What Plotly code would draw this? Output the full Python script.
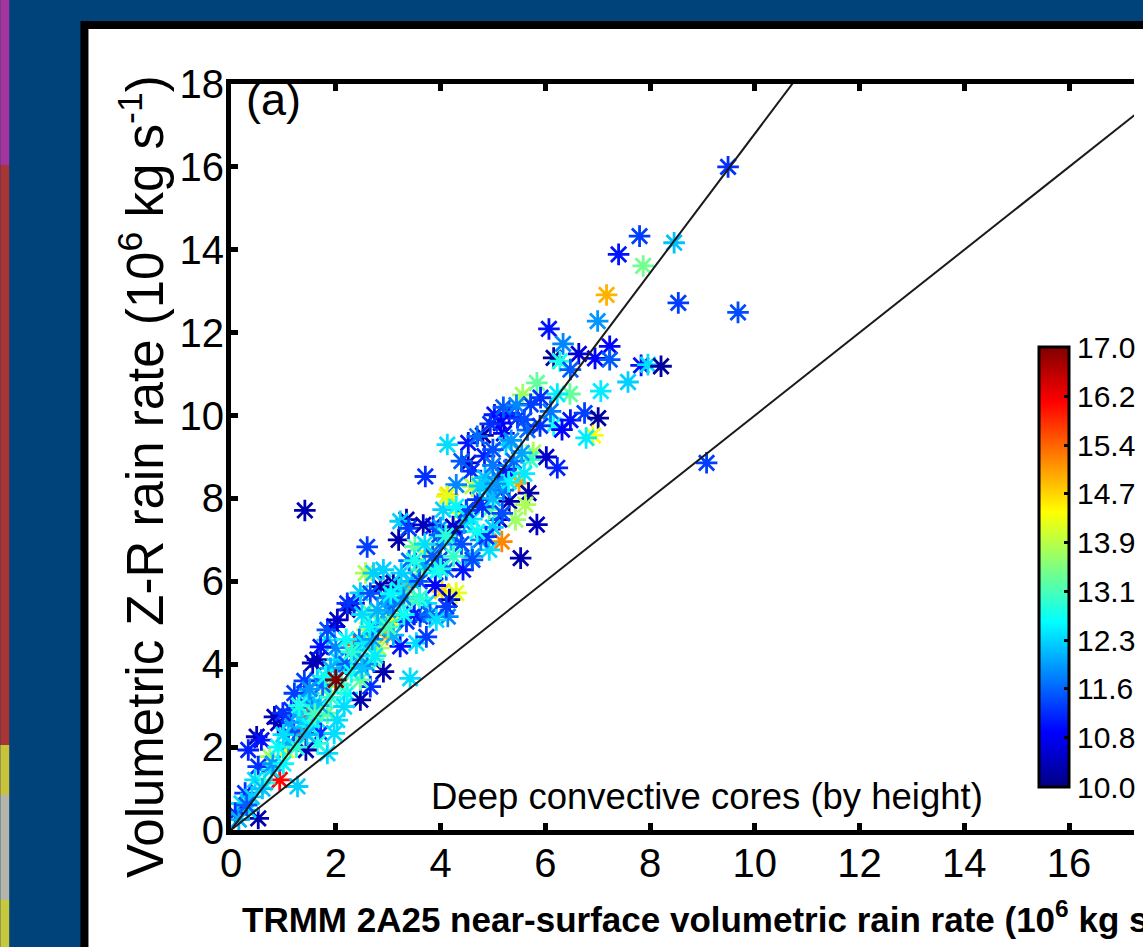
import plotly.graph_objects as go

# ---------------- data ----------------
trmm_rate = [
    9.49, 7.80, 8.46, 7.40, 7.87, 7.17, 8.54, 9.68, 7.00, 6.07, 6.34, 7.23, 6.16, 6.28, 6.64, 6.95, 7.23, 6.48,
    7.83, 7.96, 8.21, 7.58, 7.06, 5.84, 5.57, 6.47, 6.23, 5.91, 5.72, 5.03, 5.31, 5.47, 5.15, 4.81, 4.53, 4.13,
    5.21, 5.66, 6.16, 6.48, 6.75, 7.01, 6.91, 6.78, 6.32, 5.25, 5.77, 5.71, 6.02, 6.23, 9.08, 3.71, 4.53, 4.84,
    5.00, 5.34, 4.59,
    1.41, 5.50, 5.68, 5.31, 5.62, 5.84, 5.53, 5.17, 5.43, 4.93, 4.77, 5.12, 4.93, 4.71, 4.61, 4.14, 4.36, 4.30,
    4.05, 3.86, 3.35, 3.23, 3.20, 3.51, 3.78, 2.60, 2.57, 2.91, 3.10, 3.35, 3.61, 3.98, 4.11, 4.43, 4.03, 4.30,
    4.17, 4.14, 3.73, 3.48, 3.23, 3.04, 2.98, 3.35, 3.61, 3.54, 3.23, 2.91, 2.72, 2.82, 3.42, 2.35, 2.60, 2.66,
    2.35, 2.22, 2.47, 2.85, 2.72, 1.97, 1.84, 1.65, 2.03, 1.84, 2.22, 2.47, 2.66, 2.47, 1.46, 1.31, 1.65, 1.84,
    2.03, 1.71, 1.84, 1.65, 1.43, 1.05, 0.74, 0.49, 0.90, 1.15, 1.53, 1.65, 1.40, 1.27, 0.93, 1.27, 0.52, 0.46,
    0.27, 0.20, 0.52, 0.08, 0.64, 0.77, 0.33, 4.12,
    0.60, 0.80, 1.00, 1.10, 1.20, 1.35, 1.50, 1.55, 1.70, 1.90, 1.75, 2.10, 2.20, 2.30, 2.40, 2.45, 2.55, 2.70,
    2.80, 2.90, 3.00, 3.10, 3.20, 3.30, 3.45, 3.60, 3.70, 3.85, 3.90, 4.00, 4.20, 4.30, 4.45, 4.50, 4.60, 4.80,
    4.90, 5.00, 5.10, 5.25, 5.40, 3.50, 3.90, 2.00, 1.40, 1.10, 0.40, 0.15, 0.30, 2.60, 3.10, 3.80, 4.60, 4.40,
    5.00, 5.20, 4.00, 3.40, 2.95, 2.50, 2.20, 1.90,
    0.33, 0.58, 0.83, 0.99, 1.21, 1.56, 1.71, 1.84, 2.03, 2.22, 2.66, 3.39, 3.67, 3.98, 4.24, 4.49,
    3.73, 3.92, 4.11, 4.61, 4.87, 5.18, 2.16, 1.97,
    0.90, 1.25, 1.45, 1.60, 1.00, 1.30, 1.50, 1.80, 2.10, 2.30, 2.50, 2.65, 2.80, 3.05, 3.25, 3.50, 3.70, 4.10,
    4.30, 3.60, 3.30, 3.00, 2.75, 4.00, 4.25, 4.70, 4.85, 5.30, 5.55, 5.00,
    4.70, 4.95, 5.20, 5.45, 5.60, 5.90, 6.10, 5.35, 4.40, 4.75, 5.05, 5.60,
    2.00,
]
zr_rate = [
    16.00, 14.33, 14.17, 13.89, 13.61, 12.91, 12.72, 12.49, 12.28, 12.09, 11.73, 11.67, 11.39, 11.31, 11.49, 11.38, 11.35, 11.11,
    11.21, 11.23, 11.19, 10.81, 10.59, 10.79, 10.50, 10.52, 10.52, 10.43, 10.27, 10.02, 10.06, 9.94, 9.82, 9.52, 9.34, 9.30,
    9.57, 9.65, 9.77, 9.89, 10.06, 9.94, 9.52, 9.46, 9.66, 9.30, 9.11, 8.94, 9.00, 8.74, 8.86, 8.53, 8.86, 9.02,
    9.18, 8.62, 8.66,
    7.71, 8.37, 8.13, 7.93, 7.85, 7.37, 6.56, 6.96, 7.49, 6.76, 7.00, 7.49, 7.73, 7.97, 8.29, 8.09, 7.65, 8.33,
    7.73, 7.33, 7.49, 7.45, 7.00, 6.84, 6.72, 6.83, 6.20, 6.28, 5.96, 5.87, 6.28, 6.52, 6.28, 6.28, 5.76, 5.72,
    5.56, 5.15, 5.47, 5.56, 5.15, 5.11, 4.71, 5.03, 5.15, 4.51, 4.43, 3.82, 4.11, 4.39, 3.66, 4.47, 4.83, 5.23,
    5.47, 5.31, 5.72, 5.87, 6.20, 4.91, 4.58, 4.11, 4.11, 3.46, 3.30, 3.14, 3.46, 3.62, 2.73, 2.33, 2.65, 2.82,
    2.65, 2.33, 1.85, 2.09, 1.93, 1.93, 1.77, 2.25, 2.58, 2.90, 3.14, 3.62, 3.30, 2.82, 1.21, 1.05, 1.53, 1.21,
    0.89, 0.64, 0.28, 0.40, 1.13, 1.45, 0.48, 8.05,
    1.00, 1.60, 1.60, 2.10, 2.40, 2.60, 2.50, 2.95, 3.00, 3.20, 3.50, 3.90, 4.00, 3.80, 4.20, 4.60, 4.50, 4.60,
    4.85, 5.00, 5.30, 5.45, 5.80, 5.60, 6.00, 6.00, 6.40, 6.60, 6.20, 6.90, 7.00, 7.20, 7.40, 7.70, 7.50, 7.80,
    8.20, 8.00, 8.50, 8.70, 8.90, 5.20, 5.90, 4.40, 3.60, 2.60, 0.80, 0.25, 0.60, 4.00, 4.70, 5.20, 6.60, 6.90,
    7.30, 8.20, 7.30, 6.50, 5.60, 5.20, 4.60, 3.90,
    1.93, 2.17, 2.73, 2.82, 3.30, 4.03, 4.42, 4.83, 5.07, 5.47, 5.71, 7.28, 7.36, 7.12, 7.32, 7.72,
    4.66, 5.07, 5.39, 6.52, 7.08, 7.64, 2.98, 2.33,
    2.00, 2.00, 2.30, 2.80, 2.30, 3.00, 3.40, 3.70, 3.50, 4.30, 3.90, 4.90, 5.30, 5.70, 6.20, 6.50, 6.90, 7.10,
    7.80, 5.60, 5.20, 4.90, 4.20, 6.30, 6.60, 7.20, 8.50, 8.40, 9.10, 8.80,
    9.50, 9.80, 10.20, 10.25, 9.90, 9.75, 10.10, 9.40, 8.90, 8.30, 8.35, 8.60,
    3.62,
]
core_height = [
    11.2, 11.3, 12.2, 11.0, 13.4, 14.9, 11.3, 11.4, 11.9, 11.0, 11.8, 10.9, 10.2, 12.8, 10.6, 10.9, 11.5, 11.5,
    11.0, 12.4, 10.2, 12.3, 12.5, 13.3, 13.7, 13.3, 12.5, 11.2, 11.3, 11.0, 11.0, 11.2, 10.9, 10.2, 11.0, 12.4,
    10.8, 11.6, 12.7, 11.0, 11.3, 10.2, 14.3, 12.5, 10.9, 12.3, 13.8, 13.0, 10.5, 11.1, 11.3, 11.2, 10.4, 11.1,
    11.4, 12.6, 11.2,
    10.3, 15.0, 10.3, 10.3, 13.8, 10.4, 10.3, 15.2, 13.7, 12.4, 11.8, 10.6, 13.2, 11.2, 13.9, 14.6, 14.2, 11.8,
    12.3, 11.2, 10.3, 12.3, 10.3, 13.3, 14.2, 11.3, 13.8, 12.3, 10.3, 15.0, 13.4, 11.3, 11.5, 11.0, 14.6, 14.2,
    10.3, 11.8, 12.4, 13.2, 12.4, 14.4, 15.0, 11.2, 11.4, 12.4, 11.0, 10.3, 13.2, 13.8, 12.4, 15.6, 13.8, 13.2,
    11.0, 10.3, 12.3, 10.3, 12.3, 11.0, 12.4, 10.3, 12.4, 14.2, 12.6, 10.3, 11.2, 13.3, 15.5, 15.8, 12.4, 13.3,
    12.4, 11.2, 12.4, 12.8, 10.3, 14.3, 13.7, 10.3, 10.4, 11.2, 12.4, 12.3, 12.4, 12.4, 16.1, 12.3, 11.2, 12.4,
    11.2, 12.4, 10.3, 11.2, 12.9, 12.4, 12.4, 14.2,
    12.2, 11.9, 12.6, 12.0, 11.4, 12.3, 12.6, 11.8, 12.2, 12.9, 11.6, 12.3, 11.5, 12.7, 12.1, 11.7, 12.5, 12.0,
    11.5, 12.4, 12.0, 11.6, 12.5, 11.8, 12.2, 11.4, 12.0, 11.5, 12.6, 11.7, 12.2, 11.3, 12.0, 11.6, 12.5, 11.2,
    11.8, 12.2, 11.4, 11.0, 11.6, 11.1, 10.9, 11.8, 11.3, 12.0, 12.3, 12.1, 11.5, 11.8, 12.1, 11.6, 12.0, 11.4,
    12.3, 11.7, 12.0, 11.6, 11.9, 12.4, 12.6, 12.1,
    11.1, 11.0, 10.4, 11.2, 11.3, 10.4, 11.0, 11.4, 10.5, 11.2, 11.4, 11.3, 10.4, 11.4, 10.5, 11.3,
    11.3, 12.4, 11.3, 11.4, 11.2, 11.4, 12.4, 12.4,
    12.6, 12.9, 12.2, 13.1, 12.4, 12.8, 11.9, 12.7, 13.0, 12.9, 12.2, 12.6, 12.1, 12.6, 12.3, 12.8, 12.4, 12.9,
    12.6, 12.9, 12.7, 13.1, 12.5, 12.8, 13.0, 12.7, 12.2, 12.6, 12.0, 11.7,
    11.6, 11.2, 11.5, 11.8, 11.4, 11.2, 11.7, 11.9, 11.5, 12.3, 11.9, 12.5,
    17.0,
]

fit_slope = 1.68        # Z-R fit line
one_to_one_slope = 1.0  # 1:1 line
line_x_extent = [0, 20]

x_ticks = [0, 2, 4, 6, 8, 10, 12, 14, 16]
y_ticks = [0, 2, 4, 6, 8, 10, 12, 14, 16, 18]
cbar_tickvals = [10.0, 10.78, 11.56, 12.33, 13.11, 13.89, 14.67, 15.44, 16.22, 17.0]
cbar_ticktext = ["10.0", "10.8", "11.6", "12.3", "13.1", "13.9", "14.7", "15.4", "16.2", "17.0"]
height_min, height_max = 10.0, 17.0

# ---------------- layout geometry ----------------
W, H = 1143, 947
L, R, T, B = 231, 0, 84, 117
PW = W - L - R
PH = H - T - B
X_MAX = PW / 52.9


def px(xp):
    return (xp - L) / PW


def py(yp):
    return (H - B - yp) / PH


FONT = "Liberation Sans, Arial, Helvetica, sans-serif"
jet = [
    [0.0, "rgb(0,0,131)"],
    [0.125, "rgb(0,0,255)"],
    [0.375, "rgb(0,255,255)"],
    [0.625, "rgb(255,255,0)"],
    [0.875, "rgb(255,0,0)"],
    [1.0, "rgb(128,0,0)"],
]

fig = go.Figure()

fig.add_trace(go.Scatter(
    x=trmm_rate, y=zr_rate, mode="markers",
    marker=dict(
        symbol="asterisk", size=18,
        color=core_height, colorscale=jet, cmin=height_min, cmax=height_max,
        showscale=True,
        line=dict(color=core_height, colorscale=jet, cmin=height_min, cmax=height_max, width=2.8),
        colorbar=dict(
            x=px(1047), xanchor="left", xpad=0,
            y=py(567), yanchor="middle", ypad=0,
            len=440, lenmode="pixels", thickness=30, thicknessmode="pixels",
            outlinewidth=3, outlinecolor="black",
            tickvals=cbar_tickvals, ticktext=cbar_ticktext,
            ticks="inside", ticklen=6, tickwidth=3, tickcolor="black",
            tickfont=dict(size=30, family=FONT, color="black"),
        ),
    ),
    showlegend=False, hoverinfo="skip",
))

for slope in (fit_slope, one_to_one_slope):
    fig.add_trace(go.Scatter(
        x=line_x_extent, y=[slope * v for v in line_x_extent], mode="lines",
        line=dict(color="#1a1a1a", width=2), showlegend=False, hoverinfo="skip",
    ))

shapes = [
    # slide background pieces at the far left
    dict(type="rect", xref="paper", yref="paper", x0=px(-2), x1=px(7), y0=py(-2), y1=py(165),
         fillcolor="#a5359c", line=dict(width=0), layer="below"),
    dict(type="rect", xref="paper", yref="paper", x0=px(-2), x1=px(7), y0=py(165), y1=py(745),
         fillcolor="#a83434", line=dict(width=0), layer="below"),
    dict(type="rect", xref="paper", yref="paper", x0=px(-2), x1=px(7), y0=py(745), y1=py(795),
         fillcolor="#c9c23a", line=dict(width=0), layer="below"),
    dict(type="rect", xref="paper", yref="paper", x0=px(-2), x1=px(7), y0=py(795), y1=py(900),
         fillcolor="#b4b4a8", line=dict(width=0), layer="below"),
    dict(type="rect", xref="paper", yref="paper", x0=px(-2), x1=px(7), y0=py(900), y1=py(960),
         fillcolor="#c8c83c", line=dict(width=0), layer="below"),
    # white figure panel with black frame
    dict(type="rect", xref="paper", yref="paper", x0=px(83), x1=px(W + 60), y0=py(25), y1=py(H + 60),
         fillcolor="white", line=dict(color="black", width=8), layer="below"),
]

annotations = [
    dict(text="(a)", x=px(244), y=py(99), xref="paper", yref="paper", xanchor="left", yanchor="middle",
         showarrow=False, font=dict(size=45, family=FONT, color="black")),
    dict(text="Deep convective cores (by height)", x=px(431), y=py(796), xref="paper", yref="paper",
         xanchor="left", yanchor="middle", showarrow=False,
         font=dict(size=36.5, family=FONT, color="black")),
    dict(text="Volumetric Z-R rain rate (10<sup>6</sup> kg s<sup>-1</sup>)", textangle=-90,
         x=px(141), y=py(476), xref="paper", yref="paper", xanchor="center", yanchor="middle",
         showarrow=False, font=dict(size=51, family=FONT, color="black")),
    dict(text="<b>TRMM 2A25 near-surface volumetric rain rate (10<sup>6</sup> kg s<sup>-1</sup>)</b>",
         x=px(240), y=py(917), xref="paper", yref="paper", xanchor="left", yanchor="middle",
         showarrow=False, font=dict(size=35, family=FONT, color="black")),
]

fig.update_layout(
    width=W, height=H,
    margin=dict(l=L, r=R, t=T, b=B, pad=0),
    paper_bgcolor="#00427a",
    plot_bgcolor="white",
    shapes=shapes,
    annotations=annotations,
    font=dict(family=FONT, color="black"),
)
fig.update_xaxes(
    range=[0, X_MAX], tickvals=x_ticks, ticktext=[str(v) for v in x_ticks],
    showgrid=False, zeroline=False,
    showline=True, linecolor="black", linewidth=5, mirror="allticks",
    ticks="inside", ticklen=7, tickwidth=5, tickcolor="black",
    ticklabelstandoff=-6,
    tickfont=dict(size=40, family=FONT, color="black"),
)
fig.update_yaxes(
    range=[0, 18], tickvals=y_ticks, ticktext=[str(v) for v in y_ticks],
    showgrid=False, zeroline=False,
    showline=True, linecolor="black", linewidth=5, mirror=False,
    ticks="inside", ticklen=7, tickwidth=5, tickcolor="black",
    ticklabelstandoff=-6,
    tickfont=dict(size=40, family=FONT, color="black"),
)

fig.write_html(
    "out.html",
    config={"displayModeBar": False},
    post_script="document.body.style.margin='0px';document.body.style.overflow='hidden';",
)
